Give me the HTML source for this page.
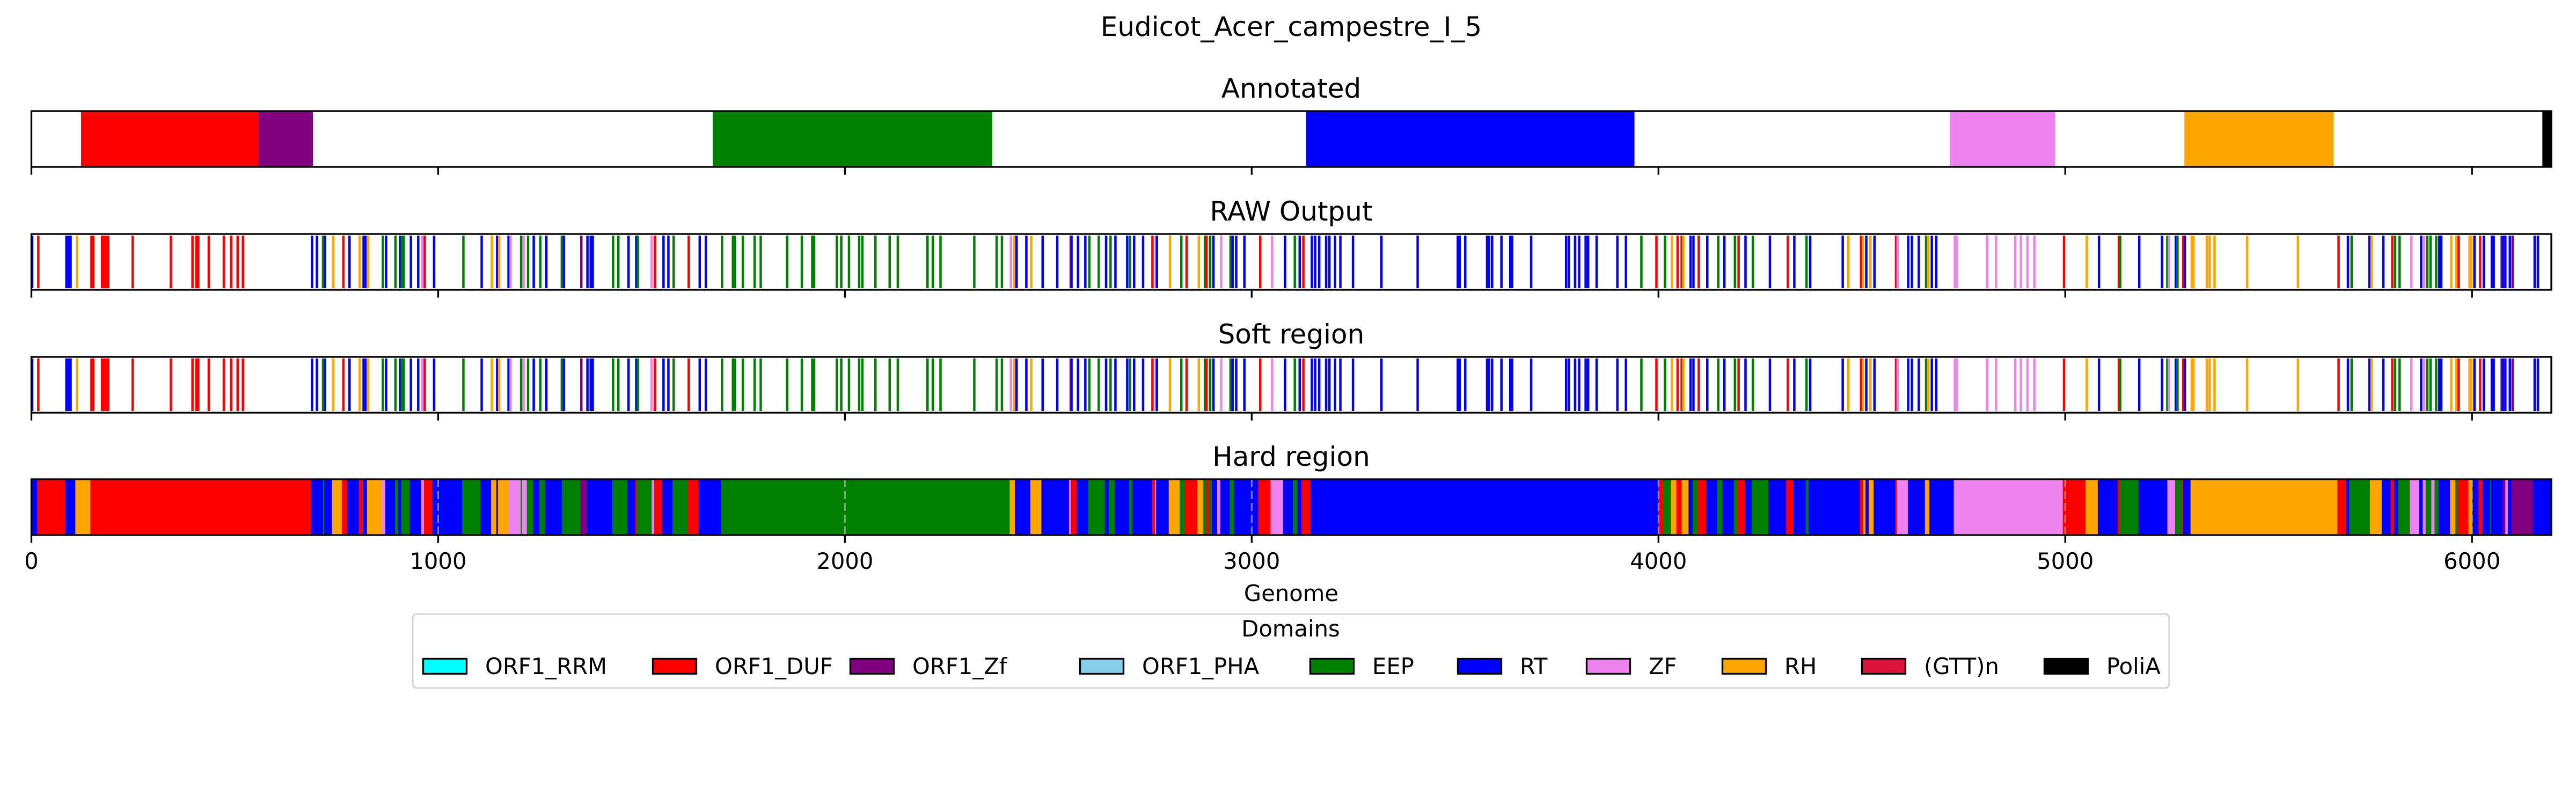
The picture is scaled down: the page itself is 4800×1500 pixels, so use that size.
<!DOCTYPE html>
<html><head><meta charset="utf-8">
<style>
html,body{margin:0;padding:0;background:#fff;}
svg{display:block;font-family:"DejaVu Sans","Liberation Sans",sans-serif;}
</style></head>
<body>
<svg id="fig" xmlns="http://www.w3.org/2000/svg" width="4800" height="1500" viewBox="0 0 4800 1500">
<rect width="4800" height="1500" fill="#fff"/>
<text x="2406" y="67" font-size="50" text-anchor="middle">Eudicot_Acer_campestre_I_5</text>
<g id="panels"></g>
<text x="2406" y="1120" font-size="41.7" text-anchor="middle">Genome</text>
<g id="legend"></g>
</svg>
<script>
// ---- data ----
const domainNames = ["ORF1_RRM","ORF1_DUF","ORF1_Zf","ORF1_PHA","EEP","RT","ZF","RH","(GTT)n","PoliA"];
const domainColors = {C:"#00FFFF",R:"#FF0000",P:"#800080",L:"#87CEEB",G:"#008000",B:"#0000FF",V:"#EE82EE",O:"#FFA500",X:"#DC143C",K:"#000000"};
const legendKeys = ["C","R","P","L","G","B","V","O","X","K"];
const xTicks = [0,1000,2000,3000,4000,5000,6000];
const xTickLabels = ["0","1000","2000","3000","4000","5000","6000"];
const genomeLength = 6195;
const annotStart = [122,558,1675,3134,4716,5293,6173];
const annotEnd   = [558,692,2362,3941,4975,5660,6195];
const annotDomain = ["R","P","G","B","V","O","K"];
const rawPos = [
2,17,86,94,112,150,176,183,189,249,
343,396,408,436,473,491,507,520,690,702,
717,722,742,767,782,807,819,828,864,872,
895,907,913,933,951,961,967,990,1062,1107,
1132,1145,1150,1173,1178,1204,1210,1221,1235,1251,
1266,1304,1309,1352,1367,1375,1380,1430,1443,1468,
1487,1491,1525,1533,1554,1566,1579,1616,1643,1658,
1698,1727,1749,1778,1793,1858,1894,1922,1980,1991,
2010,2035,2043,2075,2110,2130,2203,2216,2235,2318,
2373,2386,2408,2416,2422,2446,2458,2486,2522,2555,
2557,2573,2591,2601,2624,2642,2653,2665,2694,2701,
2711,2733,2756,2764,2767,2799,2827,2840,2870,2885,
2889,2898,2906,2925,2948,2953,2962,2982,3021,3050,
3082,3106,3118,3127,3148,3156,3166,3183,3191,3205,
3218,3249,3319,3408,3509,3525,3581,3591,3614,3638,
3687,3773,3780,3795,3805,3821,3827,3848,3899,3920,
3958,3995,4016,4033,4047,4057,4061,4079,4086,4099,
4120,4147,4162,4188,4197,4214,4232,4274,4318,4334,
4364,4373,4453,4467,4498,4503,4511,4521,4531,4584,
4588,4614,4623,4640,4658,4663,4672,4683,4731,4808,
4830,4877,4891,4907,4924,4997,5053,5083,5132,5135,
5182,5238,5251,5255,5272,5276,5290,5294,5311,5315,
5348,5355,5367,5447,5572,5672,5695,5704,5748,5753,
5782,5804,5811,5822,5851,5875,5882,5890,5898,5912,
5922,5949,5961,5967,5994,5998,6006,6020,6029,6051,
6073,6076,6082,6093,6100,6154,6162];
const rawDomain = [
"B","R","B","B","O","R","R","R","R","R",
"R","R","R","R","R","R","R","R","B","B",
"G","B","O","R","B","O","B","O","G","B",
"G","B","G","B","B","V","R","B","G","B",
"O","B","O","B","V","G","V","G","B","G",
"B","G","B","P","B","B","B","G","G","B",
"B","G","V","R","B","B","G","R","B","B",
"G","G","G","G","G","G","G","G","G","G",
"G","G","G","G","G","G","G","G","G","G",
"G","G","V","O","B","B","O","B","B","R",
"B","B","B","G","G","B","G","B","B","G",
"B","B","R","V","B","O","G","R","O","G",
"R","G","B","V","G","B","B","B","R","V",
"B","G","B","R","B","B","B","B","B","B",
"B","B","B","B","B","B","B","B","B","B",
"B","B","B","B","B","B","B","B","B","B",
"G","R","G","O","R","R","O","B","B","R",
"B","G","B","G","R","B","G","B","R","B",
"G","B","B","O","R","O","B","O","B","R",
"V","B","B","B","G","O","B","B","V","V",
"V","V","V","V","V","R","O","B","R","G",
"B","B","G","V","B","G","R","B","O","O",
"O","O","O","O","O","R","B","G","B","O",
"B","R","G","G","V","B","V","G","G","G",
"B","O","O","R","O","O","B","R","B","B",
"P","B","B","B","P","B","B"];
const rawThick = [94,150,176,408,819,913,1727,1922,3509,3581,3638,4731,5922,6051];
const hardStart = [
0,14,83,108,145,687,717,720,739,763,
776,805,815,825,862,870,894,902,909,930,
958,965,986,1059,1104,1130,1143,1147,1173,1203,
1206,1218,1233,1249,1263,1304,1350,1365,1428,1465,
1485,1488,1525,1531,1551,1576,1613,1640,1695,2405,
2418,2456,2483,2551,2555,2570,2598,2639,2649,2663,
2699,2707,2755,2762,2765,2796,2823,2836,2866,2881,
2888,2895,2902,2915,2923,2946,2956,3016,3046,3077,
3101,3112,3122,3145,4000,4011,4031,4044,4057,4074,
4084,4096,4117,4144,4157,4185,4194,4212,4229,4270,
4314,4332,4362,4369,4495,4503,4509,4517,4529,4582,
4586,4613,4655,4666,4726,4994,5050,5080,5129,5133,
5180,5251,5270,5286,5290,5308,5669,5691,5698,5749,
5778,5800,5808,5818,5847,5870,5879,5886,5891,5900,
5908,5918,5946,5959,5964,5991,6001,6016,6026,6044,
6047,6075,6082,6088,6097,6150,6157];
const hardDomain = [
"B","R","B","O","R","B","G","B","O","R",
"B","R","B","O","V","B","G","B","G","B",
"V","R","B","G","B","O","B","O","V","G",
"V","G","B","G","B","G","P","B","G","B",
"R","G","V","R","B","G","R","B","G","O",
"B","O","B","V","R","B","G","B","G","B",
"G","B","R","V","B","O","G","R","O","G",
"R","G","B","V","B","G","B","R","V","B",
"G","B","R","B","R","G","O","R","O","B",
"G","R","B","G","B","G","R","B","G","B",
"R","B","G","B","R","O","B","O","B","R",
"V","B","O","B","V","R","O","B","R","G",
"B","V","G","R","B","O","R","B","G","O",
"B","R","B","G","V","B","V","G","G","V",
"G","B","O","G","R","O","B","R","B","G",
"B","P","V","B","P","B","B"];
</script>
<script>
const NS = "http://www.w3.org/2000/svg";
const X0 = 58.5, X1 = 4754;
function xs(g){ return X0 + g*(X1-X0)/genomeLength; }
function mk(tag, attrs, parent){ const e=document.createElementNS(NS,tag); for(const k in attrs) e.setAttribute(k,attrs[k]); parent.appendChild(e); return e; }
const panels = document.getElementById("panels");
const panelDefs = [
  {title:"Annotated", top:207, name:"annotated"},
  {title:"RAW Output", top:436, name:"raw-output"},
  {title:"Soft region", top:665, name:"soft-region"},
  {title:"Hard region", top:893, name:"hard-region"}
];
const H = 104;
panelDefs.forEach((p, pi) => {
  const g = mk("g", {}, panels);
  
  
  const t = mk("text", {x:2406, y:p.top-25, "font-size":50, "text-anchor":"middle"}, g);
  t.textContent = p.title;
  
  
  const y0 = p.top, y1 = p.top + H;
  if (pi === 0) {
    for (let i=0;i<annotStart.length;i++){
      const r = mk("rect", {x:xs(annotStart[i]), y:y0, width:xs(annotEnd[i])-xs(annotStart[i]), height:H, fill:domainColors[annotDomain[i]]}, g);
      
      
    }
  } else if (pi === 1 || pi === 2) {
    for (let i=0;i<rawPos.length;i++){
      const w = rawThick.includes(rawPos[i]) ? 8 : 4.5;
      const r = mk("rect", {x:xs(rawPos[i])-w/2, y:y0+3, width:w, height:H-6, fill:domainColors[rawDomain[i]||"B"]}, g);
      
      
    }
  } else {
    for (let i=0;i<hardStart.length;i++){
      const e = i+1<hardStart.length ? hardStart[i+1] : genomeLength;
      const r = mk("rect", {x:xs(hardStart[i]), y:y0, width:Math.max(1,xs(e)-xs(hardStart[i])+0.5), height:H, fill:domainColors[hardDomain[i]||"B"]}, g);
      
      
    }
    for (let i=1;i<xTicks.length;i++){
      const l = mk("line", {x1:xs(xTicks[i]), x2:xs(xTicks[i]), y1:y0, y2:y1, stroke:"#aaaaaa", "stroke-width":3, "stroke-dasharray":"15 7", opacity:0.8}, g);
      
      
    }
  }
  const frame = mk("rect", {x:X0, y:y0, width:X1-X0, height:H, fill:"none", stroke:"#000", "stroke-width":3.3}, g);
  
  
  xTicks.forEach((tv, ti) => {
    const tk = mk("line", {x1:xs(tv), x2:xs(tv), y1:y1, y2:y1+14.6, stroke:"#000", "stroke-width":3.3}, g);
    
    
    if (pi === 3) {
      const tl = mk("text", {x:xs(tv), y:1060, "font-size":41.7, "text-anchor":"middle"}, g);
      tl.textContent = xTickLabels[ti];
      
      
    }
  });
});
// legend
const lg = document.getElementById("legend");
const box = mk("rect", {x:769, y:1144, width:3273, height:138, rx:8, fill:"#fff", stroke:"#d6d6d6", "stroke-width":3.3}, lg);


const lt = mk("text", {x:2405, y:1186, "font-size":41.7, "text-anchor":"middle"}, lg);
lt.textContent = "Domains";


const legendX = [787,1215,1583,2011,2440,2715,2955,3208,3468,3808];
domainNames.forEach((n,i) => {
  const e = mk("g", {}, lg);
  
  
  mk("rect", {x:legendX[i]+1.5, y:1227.5, width:81, height:28, fill:domainColors[legendKeys[i]], stroke:"#000", "stroke-width":3.3}, e);
  const tx = mk("text", {x:legendX[i]+117, y:1256, "font-size":41.7}, e);
  tx.textContent = n;
});
</script>
</body></html>
